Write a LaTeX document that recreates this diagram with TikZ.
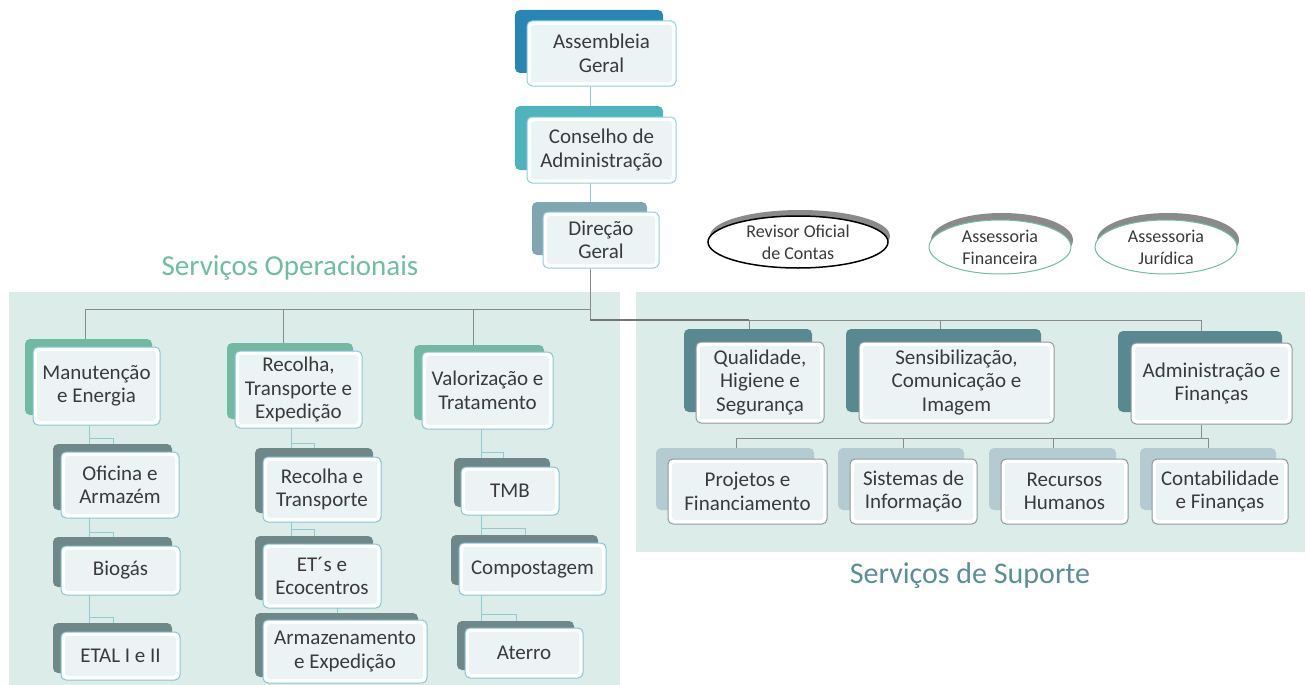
\documentclass[tikz,border=0pt]{standalone}
\usepackage{fontspec}
\setmainfont{Carlito}
\usetikzlibrary{shapes.geometric}
\pgfdeclarelayer{bgpanel}
\pgfdeclarelayer{bglines}
\pgfsetlayers{bgpanel,bglines,main}
\definecolor{panelc}{HTML}{DCEDE9}
\definecolor{txt}{HTML}{3A3A3A}
\definecolor{agc}{HTML}{2886B5}
\definecolor{cdc}{HTML}{4DB3BD}
\definecolor{dgc}{HTML}{7FA6B1}
\definecolor{optop}{HTML}{72B9A3}
\definecolor{opsub}{HTML}{6E8789}
\definecolor{sptop}{HTML}{5A8890}
\definecolor{spsub}{HTML}{B3CBD1}
\definecolor{frontin}{HTML}{ECF3F5}
\definecolor{bordteal}{HTML}{8FCFD8}
\definecolor{bordblue}{HTML}{88C4D8}
\definecolor{bordgray}{HTML}{8E9A9C}
\definecolor{linegray}{HTML}{8A8A8A}
\definecolor{lineteal}{HTML}{8FCCD2}
\definecolor{titop}{HTML}{6DBF9F}
\definecolor{titsp}{HTML}{5A8F98}
\definecolor{shadowc}{HTML}{8A8A8A}
\definecolor{ellgreen}{HTML}{6CC0A0}
\begin{document}
\begin{tikzpicture}[x=1pt,y=-1pt,
  back/.style={rounded corners=5pt},
  front/.style={draw=#1, line width=1pt, fill=white, rounded corners=5pt, inner sep=0pt,
    align=center, text=txt, font=\fontsize{21}{23.5}\selectfont,
    path picture={\fill[frontin, rounded corners=3pt]
      ([shift={(4,4)}]path picture bounding box.north west) rectangle
      ([shift={(-4,-4)}]path picture bounding box.south east);}},
  ell/.style={ellipse, draw=#1, fill=white, inner sep=0pt, align=center, text=txt,
    font=\fontsize{18}{22}\selectfont},
  ellsh/.style={ellipse, fill=shadowc, inner sep=0pt},
  conn/.style={draw=linegray, line width=1pt},
  connt/.style={draw=lineteal, line width=1pt},
  connk/.style={draw=linegray!85!black, line width=2pt},
  titleop/.style={text=titop, font=\fontsize{29}{32}\selectfont},
  titlesp/.style={text=titsp, font=\fontsize{30}{33}\selectfont}
]
\useasboundingbox (0,0) rectangle (1309,685);

% panels
\begin{pgfonlayer}{bgpanel}
\fill[panelc] (9,292) rectangle (620,685);
\fill[panelc] (636,292) rectangle (1305,552);
\end{pgfonlayer}

\node[titleop] (tso) at (290,268) {Serviços Operacionais};
\node[titlesp] (tss) at (970,576) {Serviços de Suporte};

% top column
\fill[back, agc] (515,10) rectangle (663,73);
\node[front=bordteal, minimum width=149, minimum height=65] (ag) at (601.5,53.5) {Assembleia\\Geral};
\fill[back, cdc] (515,106) rectangle (663,170);
\node[front=bordteal, minimum width=149, minimum height=66] (cda) at (601.5,150) {Conselho de\\Administração};
\fill[back, dgc] (532,202) rectangle (647,255);
\node[front=bordteal, minimum width=116, minimum height=56] (dg) at (601,240) {Direção\\Geral};

% ellipses
\node[ellsh, minimum width=180, minimum height=52] (rocs) at (800,236) {};
\node[ell=black, line width=1.5pt, minimum width=180, minimum height=52] (roc) at (798,242) {Revisor Oficial\\de Contas};
\node[ellsh, minimum width=142, minimum height=54] (afs) at (1002,240) {};
\node[ell=ellgreen, line width=1pt, minimum width=142, minimum height=54] (af) at (1000,247) {Assessoria\\Financeira};
\node[ellsh, minimum width=142, minimum height=54] (ajs) at (1168,240) {};
\node[ell=ellgreen, line width=1pt, minimum width=142, minimum height=54] (aj) at (1166,247) {Assessoria\\Jurídica};

% operational top
\fill[back, optop] (25,339) rectangle (152,415);
\node[front=bordblue, minimum width=127, minimum height=78] (me) at (96.5,386) {Manutenção\\e Energia};
\fill[back, optop] (227,343) rectangle (353,419);
\node[front=bordblue, minimum width=127, minimum height=77] (rte) at (298.5,389.5) {Recolha,\\Transporte e\\Expedição};
\fill[back, optop] (414,345) rectangle (544,420);
\node[front=bordblue, minimum width=131, minimum height=77] (vt) at (487.5,390.5) {Valorização e\\Tratamento};

% operational sub
\fill[back, opsub] (53,444) rectangle (172,510);
\node[front=bordblue, minimum width=118, minimum height=66] (oa) at (120,485) {Oficina e\\Armazém};
\fill[back, opsub] (53,537) rectangle (172,587);
\node[front=bordblue, minimum width=119, minimum height=49] (bio) at (120.5,570.5) {Biogás};
\fill[back, opsub] (53,623) rectangle (172,673);
\node[front=bordblue, minimum width=119, minimum height=48] (etal) at (120.5,656) {ETAL I e II};

\fill[back, opsub] (255,448) rectangle (373,513);
\node[front=bordblue, minimum width=118, minimum height=65] (rt) at (322,489.5) {Recolha e\\Transporte};
\fill[back, opsub] (255,536) rectangle (373,600);
\node[front=bordblue, minimum width=118, minimum height=64] (ete) at (322,576) {ET´s e\\Ecocentros};
\fill[back, opsub] (255,613) rectangle (418,677);
\node[front=bordblue, minimum width=164, minimum height=63] (ae) at (345,651.5) {Armazenamento\\e Expedição};

\fill[back, opsub] (454,458) rectangle (550,507);
\node[front=bordblue, minimum width=98, minimum height=48] (tmb) at (510,491) {TMB};
\fill[back, opsub] (451,535) rectangle (598,585);
\node[front=bordblue, minimum width=147, minimum height=52] (comp) at (532.5,569) {Compostagem};
\fill[back, opsub] (457,621) rectangle (574,670);
\node[front=bordblue, minimum width=118, minimum height=50] (at) at (524,653) {Aterro};

% support top
\fill[back, sptop] (684,329) rectangle (812,412);
\node[front=bordgray, minimum width=128, minimum height=81] (qhs) at (760,382.5) {Qualidade,\\Higiene e\\Segurança};
\fill[back, sptop] (846,329) rectangle (1041,412);
\node[front=bordgray, minimum width=195, minimum height=81] (sci) at (956.5,382.5) {Sensibilização,\\Comunicação e\\Imagem};
\fill[back, sptop] (1118,331) rectangle (1282,412);
\node[front=bordgray, minimum width=161, minimum height=81] (adf) at (1211.5,383.5) {Administração e\\Finanças};

% support sub
\fill[back, spsub] (656,448) rectangle (814,510);
\node[front=bordgray, minimum width=159, minimum height=65] (pf) at (747.5,491.5) {Projetos e\\Financiamento};
\fill[back, spsub] (838,448) rectangle (964,510);
\node[front=bordgray, minimum width=127, minimum height=65] (si) at (913.5,491.5) {Sistemas de\\Informação};
\fill[back, spsub] (989,448) rectangle (1116,510);
\node[front=bordgray, minimum width=127, minimum height=65] (rh) at (1064.5,491.5) {Recursos\\Humanos};
\fill[back, spsub] (1140,448) rectangle (1276,510);
\node[front=bordgray, minimum width=136, minimum height=65] (cf) at (1220,491.5) {Contabilidade\\e Finanças};

% connectors
\coordinate (spine) at (590,0);
\coordinate (lbar) at (0,309);
\coordinate (rbar) at (0,320);
\coordinate (d1) at (85,0);
\coordinate (d2) at (283,0);
\coordinate (d3) at (473,0);
\coordinate (s1) at (749,0);
\coordinate (s2) at (940,0);
\coordinate (s3) at (1201,0);
\coordinate (sbar) at (0,438);
\coordinate (c1) at (736,0);
\coordinate (c2) at (903,0);
\coordinate (c3) at (1053,0);
\coordinate (c4) at (1208,0);
\begin{pgfonlayer}{bglines}
\draw[connt] (ag.south -| spine) -- (dg.north -| spine);
\draw[conn] (dg.south -| spine) -- (spine |- rbar);
\draw[conn] (d1 |- lbar) -- (spine |- lbar);
\draw[conn] (d1 |- lbar) -- (d1 |- me.north);
\draw[conn] (d2 |- lbar) -- (d2 |- rte.north);
\draw[conn] (d3 |- lbar) -- (d3 |- vt.north);
\draw[connk] (spine |- rbar) -- (s1 |- rbar);
\draw[conn] (s1 |- rbar) -- (s3 |- rbar);
\draw[conn] (s1 |- rbar) -- (s1 |- qhs.north);
\draw[conn] (s2 |- rbar) -- (s2 |- sci.north);
\draw[conn] (s3 |- rbar) -- (s3 |- adf.north);
% support sub
\draw[conn] (s3 |- adf.south) -- (s3 |- sbar);
\draw[conn] (c1 |- sbar) -- (c4 |- sbar);
\draw[conn] (c1 |- sbar) -- (c1 |- pf.north);
\draw[conn] (c2 |- sbar) -- (c2 |- si.north);
\draw[conn] (c3 |- sbar) -- (c3 |- rh.north);
\draw[conn] (c4 |- sbar) -- (c4 |- cf.north);
% operational sub
\draw[connt] (89,425) -- (89,632);
\draw[connt] (89,438) -- (113,438) -- (113,444);
\draw[connt] (89,532) -- (113,532) -- (113,537);
\draw[connt] (89,617) -- (113,617) -- (113,623);
\draw[connt] (291,428) -- (291,544);
\draw[connt] (291,443) -- (314,443) -- (314,448);
\draw[connt] (291,529) -- (314,529) -- (314,536);
\draw[connt] (337,608) -- (337,613);
\draw[connt] (481,429) -- (481,628);
\draw[connt] (481,452) -- (503,452) -- (503,458);
\draw[connt] (481,528) -- (525,528) -- (525,535);
\draw[connt] (481,614) -- (516,614) -- (516,621);
\end{pgfonlayer}
\end{tikzpicture}
\end{document}
